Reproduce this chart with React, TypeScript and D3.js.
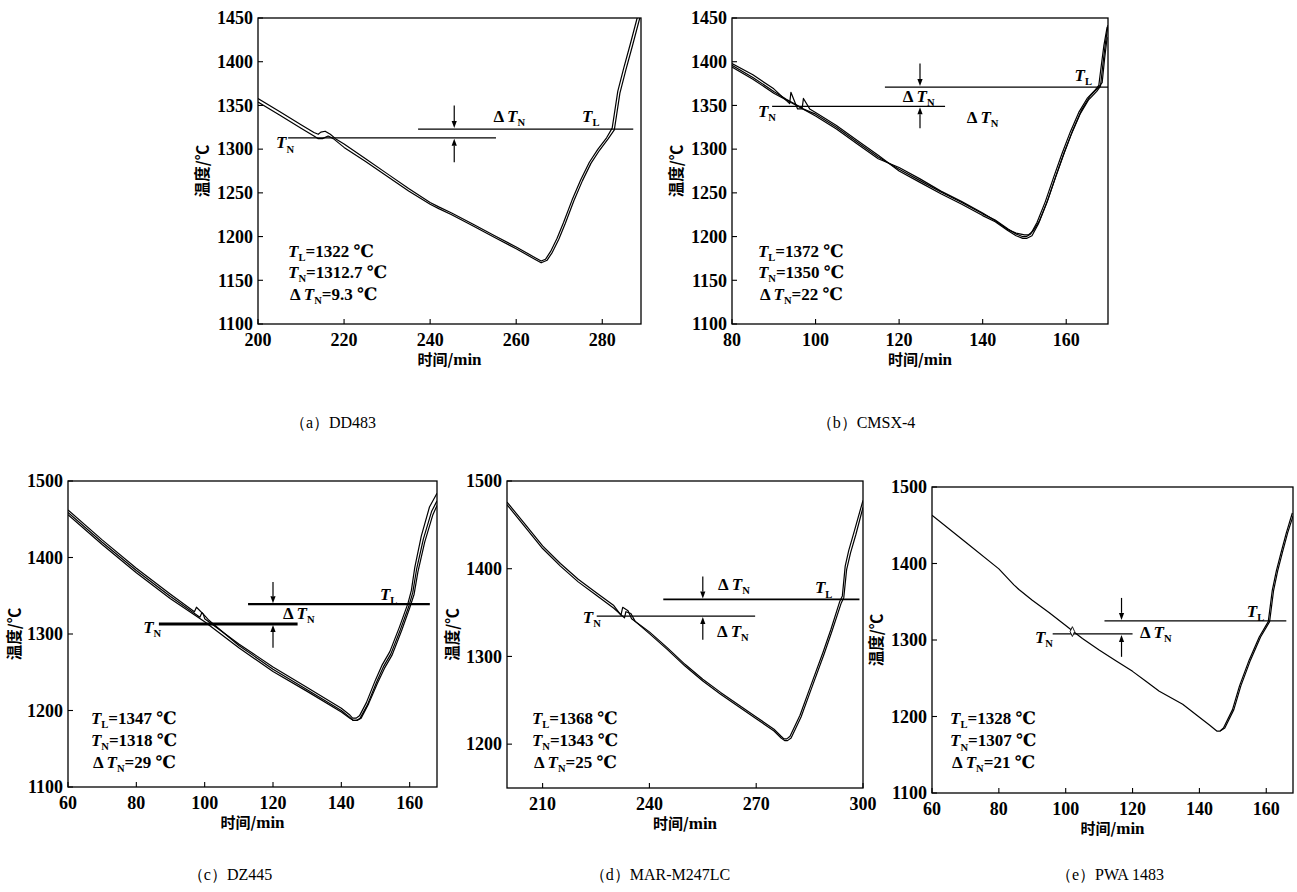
import React from "react";
import * as d3 from "d3";

type Pt = [number, number];

// ---------- (a) DD483 ----------
const aXTicks = [200, 220, 240, 260, 280];
const aYTicks = [1100, 1150, 1200, 1250, 1300, 1350, 1400, 1450];
const aCurve1: Pt[] = [
  [200, 1358], [205, 1343], [210, 1328], [213, 1319], [214, 1317], [214.6, 1319.5], [215.6, 1320.5], [216.8, 1317],
  [218, 1312], [220, 1306], [225, 1289], [230, 1272], [235, 1255], [240, 1239], [242, 1234], [245, 1227],
  [250, 1214], [255, 1201], [260, 1188], [264, 1177], [265.8, 1172], [266.8, 1174], [268, 1183], [269.5, 1198],
  [271, 1216], [273, 1242], [275, 1265], [277, 1285], [279, 1300], [281, 1313], [282.3, 1324], [282.8, 1340],
  [283.6, 1366], [285, 1393], [286.5, 1420], [288, 1448], [289, 1466],
];
const aCurve2: Pt[] = [
  [200, 1354], [205, 1339], [210, 1324], [213, 1315], [214, 1312], [215, 1312], [216.3, 1315], [217.5, 1312],
  [220, 1302], [225, 1286], [230, 1269], [235, 1252], [240, 1237], [242, 1232], [245, 1225], [250, 1212],
  [255, 1199], [260, 1186], [264, 1175], [265.8, 1170], [267.2, 1173], [268.4, 1182], [269.9, 1197], [271.4, 1215],
  [273.4, 1241], [275.4, 1264], [277.4, 1284], [279.4, 1299], [281.4, 1312], [282.8, 1322], [283.3, 1338], [284.1, 1364],
  [285.5, 1391], [287, 1418], [288.5, 1446], [289.5, 1464],
];
const aLevelTN = 1313;
const aLevelTL = 1323;
const aValues = ["1322", "1312.7", "9.3"];

// ---------- (b) CMSX-4 ----------
const bXTicks = [80, 100, 120, 140, 160];
const bYTicks = [1100, 1150, 1200, 1250, 1300, 1350, 1400, 1450];
const bCurve1: Pt[] = [
  [80, 1398], [85, 1385], [90, 1369], [93.8, 1352], [94.1, 1365], [95.7, 1346], [97, 1346], [100, 1340],
  [105, 1325], [110, 1308], [115, 1291], [120, 1277], [125, 1264], [130, 1251], [135, 1239], [140, 1226],
  [143, 1219], [146, 1209], [148, 1203], [149.5, 1200], [150.5, 1200], [151.5, 1203], [153, 1216], [155, 1240],
  [157, 1268], [159, 1295], [161, 1320], [163, 1342], [165, 1358], [167, 1368], [167.8, 1373], [168.4, 1396],
  [169, 1418], [169.8, 1440],
];
const bCurve2: Pt[] = [
  [80, 1396], [85, 1382], [90, 1366], [93, 1357], [96.8, 1347], [97.1, 1358], [98.6, 1346], [100, 1342],
  [105, 1327], [110, 1310], [115, 1293], [120, 1275], [125, 1262], [130, 1249], [135, 1237], [140, 1224],
  [143, 1217], [146, 1207], [148, 1201], [149.6, 1198], [150.6, 1198], [151.8, 1201], [153.3, 1214], [155.3, 1238],
  [157.3, 1266], [159.3, 1293], [161.3, 1318], [163.3, 1340], [165.3, 1356], [167.3, 1366], [168.2, 1372], [168.8, 1398],
  [169.4, 1422], [170, 1442],
];
const bCurve3: Pt[] = [
  [80, 1394], [85, 1380], [90, 1364], [95, 1351], [100, 1338], [105, 1323], [110, 1306], [115, 1289],
  [120, 1279], [125, 1266], [130, 1252], [135, 1240], [140, 1227], [143, 1218], [146, 1208], [148, 1204],
  [150, 1202], [151, 1202], [152, 1206], [153.6, 1218], [155.6, 1242], [157.6, 1270], [159.6, 1297], [161.6, 1322],
  [163.6, 1344], [165.6, 1360], [167.6, 1370], [168.6, 1376], [169.2, 1404], [169.8, 1428],
];
const bLevelTN = 1349;
const bLevelTL = 1371;
const bValues = ["1372", "1350", "22"];

// ---------- (c) DZ445 ----------
const cXTicks = [60, 80, 100, 120, 140, 160];
const cYTicks = [1100, 1200, 1300, 1400, 1500];
const cCurve1: Pt[] = [
  [60, 1462], [70, 1423], [80, 1386], [90, 1352], [97, 1329], [97.6, 1335], [99.6, 1326], [100, 1320],
  [110, 1287], [120, 1257], [130, 1230], [140, 1203], [142.5, 1194], [143.3, 1190], [144.3, 1190], [145.3, 1193],
  [147.3, 1210], [150, 1240], [152, 1260], [154.2, 1277], [157, 1309], [159.5, 1340], [160.5, 1357], [161.5, 1387],
  [163.4, 1428], [165.8, 1466], [168, 1484],
];
const cCurve2: Pt[] = [
  [60, 1459], [70, 1420], [80, 1383], [90, 1349], [98.6, 1322], [99.2, 1328], [101, 1319], [102, 1315],
  [110, 1285], [120, 1254], [130, 1227], [140, 1200], [142.5, 1191], [143.4, 1187], [144.4, 1187], [145.5, 1190],
  [147.6, 1207], [150.3, 1237], [152.3, 1257], [154.5, 1274], [157.3, 1306], [159.8, 1337], [160.9, 1354], [162, 1384],
  [164, 1424], [166.4, 1460], [168, 1474],
];
const cCurve3: Pt[] = [
  [60, 1456], [70, 1417], [80, 1380], [90, 1346], [100, 1316], [110, 1282], [120, 1251], [130, 1225],
  [140, 1198], [142.5, 1190], [143.6, 1187], [144.6, 1187], [145.8, 1190], [148, 1209], [150.6, 1236], [152.6, 1255],
  [154.8, 1272], [157.6, 1304], [160, 1334], [161.3, 1352], [162.4, 1381], [164.4, 1420], [166.8, 1456], [168, 1468],
];
const cLevelTN = 1313;
const cLevelTL = 1339;
const cValues = ["1347", "1318", "29"];

// ---------- (d) MAR-M247LC ----------
const dXTicks = [210, 240, 270, 300];
const dYTicks = [1200, 1300, 1400, 1500];
const dCurve1: Pt[] = [
  [200, 1476], [205, 1451], [210, 1426], [215, 1406], [220, 1388], [225, 1373], [230, 1358], [232, 1347],
  [232.5, 1356], [234, 1352], [235, 1343], [240, 1328], [245, 1310], [250, 1291], [255, 1274], [260, 1259],
  [265, 1245], [270, 1231], [275, 1217], [277, 1209], [277.8, 1206], [278.6, 1206], [279.5, 1209], [282.3, 1233],
  [285, 1263], [288.8, 1305], [291, 1331], [293.5, 1363], [294.2, 1369], [295, 1403], [296, 1421], [297.5, 1442],
  [300, 1478],
];
const dCurve2: Pt[] = [
  [200, 1473], [205, 1448], [210, 1423], [215, 1403], [220, 1385], [225, 1370], [230, 1355], [233, 1344],
  [233.4, 1351], [234.8, 1349], [236, 1340], [240, 1326], [245, 1308], [250, 1289], [255, 1272], [260, 1257],
  [265, 1243], [270, 1229], [275, 1215], [277, 1207], [278, 1204], [278.8, 1204], [279.8, 1207], [282.6, 1231],
  [285.3, 1261], [289.1, 1303], [291.3, 1329], [293.9, 1361], [294.6, 1367], [295.4, 1399], [296.5, 1418], [298, 1439],
  [300, 1470],
];
const dLevelTN = 1346;
const dLevelTL = 1365;
const dValues = ["1368", "1343", "25"];

// ---------- (e) PWA 1483 ----------
const eXTicks = [60, 80, 100, 120, 140, 160];
const eYTicks = [1100, 1200, 1300, 1400, 1500];
const eCurve1: Pt[] = [
  [60, 1463], [70, 1428], [80, 1393], [84.5, 1372], [86, 1366], [90, 1352], [95, 1336], [100, 1319],
  [102, 1312], [105, 1302], [110, 1287], [115, 1273], [120, 1259], [124, 1246], [128, 1233], [135, 1216],
  [140, 1199], [143, 1189], [145.2, 1181], [146.2, 1181], [147.2, 1185], [149.9, 1209], [152, 1240], [154.9, 1274],
  [157.9, 1304], [160.6, 1324], [161.8, 1365], [163, 1390], [164.4, 1414], [166, 1440], [167.8, 1466],
];
const eCurve2: Pt[] = [
  [146.2, 1181], [147.6, 1185], [150.3, 1209], [152.4, 1240], [155.3, 1274], [158.3, 1304], [161, 1324],
  [162.2, 1365], [163.4, 1390], [164.8, 1414], [166.4, 1440], [168, 1462],
];
const eLevelTN = 1308;
const eLevelTL = 1325;
const eMarker: Pt = [102, 1311];
const eValues = ["1328", "1307", "21"];

// ---------- layout ----------
type LabelSpec = { kind: "TN" | "TL" | "dTN"; at: Pt };
type PanelCfg = {
  left: number; right: number; top: number; bottom: number;
  xDomain: Pt; yDomain: Pt; xTicks: number[]; yTicks: number[];
  curves: Pt[][]; curveWidth: number;
  tnLine: [number, number]; tlLine: [number, number]; levels: Pt;
  lineWidths: Pt;
  arrowX: number; arrowFrom: Pt;
  labels: LabelSpec[];
  annot: { x: number; ys: number[]; values: string[] };
  ylabelX: number;
  marker?: Pt;
};

const panels: PanelCfg[] = [
  {
    left: 258, right: 641, top: 18, bottom: 324, xDomain: [200, 289], yDomain: [1100, 1450],
    xTicks: aXTicks, yTicks: aYTicks, curves: [aCurve1, aCurve2], curveWidth: 1.2,
    tnLine: [207, 255.3], tlLine: [237.2, 287.2], levels: [aLevelTN, aLevelTL], lineWidths: [1.3, 1.3],
    arrowX: 245.6, arrowFrom: [1350, 1285],
    labels: [{ kind: "TN", at: [204.2, 1301] }, { kind: "dTN", at: [254.7, 1331] }, { kind: "TL", at: [275.3, 1331] }],
    annot: { x: 207, ys: [1176.5, 1152.5, 1127.3], values: aValues }, ylabelX: 203,
  },
  {
    left: 732, right: 1108, top: 18, bottom: 324, xDomain: [80, 170], yDomain: [1100, 1450],
    xTicks: bXTicks, yTicks: bYTicks, curves: [bCurve1, bCurve2, bCurve3], curveWidth: 1.2,
    tnLine: [89.6, 131], tlLine: [116.6, 170], levels: [bLevelTN, bLevelTL], lineWidths: [1.3, 1.3],
    arrowX: 125, arrowFrom: [1398, 1324],
    labels: [
      { kind: "TN", at: [86.2, 1336.7] }, { kind: "dTN", at: [120.9, 1354] },
      { kind: "dTN", at: [136.2, 1330] }, { kind: "TL", at: [162, 1378] },
    ],
    annot: { x: 86.2, ys: [1176.5, 1152.5, 1127.3], values: bValues }, ylabelX: 677,
  },
  {
    left: 68, right: 437, top: 481, bottom: 787, xDomain: [60, 168], yDomain: [1100, 1500],
    xTicks: cXTicks, yTicks: cYTicks, curves: [cCurve1, cCurve2, cCurve3], curveWidth: 1.2,
    tnLine: [86.6, 127.2], tlLine: [112.7, 165.9], levels: [cLevelTN, cLevelTL], lineWidths: [3, 2.2],
    arrowX: 120, arrowFrom: [1368, 1282],
    labels: [{ kind: "TN", at: [82, 1301.3] }, { kind: "dTN", at: [122.9, 1319.6] }, { kind: "TL", at: [151.3, 1344.4] }],
    annot: { x: 66.7, ys: [1182.4, 1153.6, 1124.8], values: cValues }, ylabelX: 15,
  },
  {
    left: 507, right: 863, top: 481, bottom: 788, xDomain: [200, 300], yDomain: [1150, 1500],
    xTicks: dXTicks, yTicks: dYTicks, curves: [dCurve1, dCurve2], curveWidth: 1.2,
    tnLine: [225.2, 269.7], tlLine: [243.9, 299], levels: [dLevelTN, dLevelTL], lineWidths: [1.3, 1.6],
    arrowX: 255, arrowFrom: [1391, 1319],
    labels: [
      { kind: "TN", at: [221.3, 1338] }, { kind: "dTN", at: [259.3, 1375.7] },
      { kind: "dTN", at: [259, 1322] }, { kind: "TL", at: [286.5, 1372] },
    ],
    annot: { x: 207, ys: [1223, 1198, 1173], values: dValues }, ylabelX: 453,
  },
  {
    left: 932, right: 1293, top: 487, bottom: 793, xDomain: [60, 168], yDomain: [1100, 1500],
    xTicks: eXTicks, yTicks: eYTicks, curves: [eCurve1, eCurve2], curveWidth: 1.2,
    tnLine: [96.1, 120], tlLine: [111.6, 166], levels: [eLevelTN, eLevelTL], lineWidths: [1.3, 1.3],
    arrowX: 116.7, arrowFrom: [1355, 1278],
    labels: [{ kind: "TN", at: [90.8, 1296] }, { kind: "dTN", at: [122.2, 1302.6] }, { kind: "TL", at: [154.2, 1330] }],
    annot: { x: 65.4, ys: [1190, 1161, 1133], values: eValues }, ylabelX: 877, marker: eMarker,
  },
];

const captions: { text: string; x: number; y: number }[] = [
  { text: "（a）DD483", x: 333, y: 428 },
  { text: "（b）CMSX-4", x: 866, y: 428 },
  { text: "（c）DZ445", x: 230, y: 880 },
  { text: "（d）MAR-M247LC", x: 660, y: 880 },
  { text: "（e）PWA 1483", x: 1110, y: 880 },
];

const SERIF = "'Liberation Serif', 'DejaVu Serif', serif";
const CJK = "'Noto Sans CJK SC', sans-serif";

function sym(sub: string, delta: boolean, rest: string, fs: number) {
  const d = fs * 0.25;
  return (
    <>
      {delta && <tspan>Δ</tspan>}
      <tspan fontStyle="italic" dx={delta ? 3 : 0}>T</tspan>
      <tspan fontSize={fs * 0.62} dy={d}>{sub}</tspan>
      {rest ? <tspan dy={-d}>{rest}</tspan> : null}
    </>
  );
}

function Arrow({ x, y1, y2 }: { x: number; y1: number; y2: number }) {
  const dir = y2 > y1 ? 1 : -1;
  const hl = 7;
  return (
    <g>
      <line x1={x} x2={x} y1={y1} y2={y2 - dir * hl} stroke="#000" strokeWidth={1.2} />
      <path d={`M${x - 2.6},${y2 - dir * hl} L${x + 2.6},${y2 - dir * hl} L${x},${y2} Z`} fill="#000" />
    </g>
  );
}

function Panel({ cfg, idx }: { cfg: PanelCfg; idx: number }) {
  const x = d3.scaleLinear().domain(cfg.xDomain).range([cfg.left, cfg.right]);
  const y = d3.scaleLinear().domain(cfg.yDomain).range([cfg.bottom, cfg.top]);
  const line = d3.line<Pt>().x((d) => x(d[0])).y((d) => y(d[1])).curve(d3.curveLinear);
  const clipId = `clip${idx}`;
  const fsTick = 18;
  const fsLab = 17;
  const [tnY, tlY] = cfg.levels;
  return (
    <g>
      <defs>
        <clipPath id={clipId}>
          <rect x={cfg.left} y={cfg.top} width={cfg.right - cfg.left} height={cfg.bottom - cfg.top} />
        </clipPath>
      </defs>
      <g clipPath={`url(#${clipId})`}>
        {cfg.curves.map((c, i) => (
          <path key={i} d={line(c) || ""} fill="none" stroke="#000" strokeWidth={cfg.curveWidth} strokeLinejoin="round" />
        ))}
      </g>
      <rect x={cfg.left} y={cfg.top} width={cfg.right - cfg.left} height={cfg.bottom - cfg.top} fill="none" stroke="#000" strokeWidth={1.3} />
      {cfg.xTicks.map((t) => (
        <g key={`x${t}`}>
          <line x1={x(t)} x2={x(t)} y1={cfg.bottom} y2={cfg.bottom - 5} stroke="#000" strokeWidth={1.1} />
          <text x={x(t)} y={cfg.bottom + 22} textAnchor="middle" fontFamily={SERIF} fontWeight="bold" fontSize={fsTick}>{t}</text>
        </g>
      ))}
      {cfg.yTicks.map((t) => (
        <g key={`y${t}`}>
          <line x1={cfg.left} x2={cfg.left + 5} y1={y(t)} y2={y(t)} stroke="#000" strokeWidth={1.1} />
          <text x={cfg.left - 5} y={y(t)} dy="0.35em" textAnchor="end" fontFamily={SERIF} fontWeight="bold" fontSize={fsTick}>{t}</text>
        </g>
      ))}
      <text x={(cfg.left + cfg.right) / 2} y={cfg.bottom + 41} textAnchor="middle" fontFamily={CJK} fontWeight="bold" fontSize={15}>
        时间/<tspan fontFamily={SERIF} fontSize={17}>min</tspan>
      </text>
      <text transform={`translate(${cfg.ylabelX},${(cfg.top + cfg.bottom) / 2}) rotate(-90)`} textAnchor="middle" dy="0.35em" fontFamily={CJK} fontWeight="bold" fontSize={15.5}>
        温度/℃
      </text>
      <line x1={x(cfg.tnLine[0])} x2={x(cfg.tnLine[1])} y1={y(tnY)} y2={y(tnY)} stroke="#000" strokeWidth={cfg.lineWidths[0]} />
      <line x1={x(cfg.tlLine[0])} x2={x(cfg.tlLine[1])} y1={y(tlY)} y2={y(tlY)} stroke="#000" strokeWidth={cfg.lineWidths[1]} />
      <Arrow x={x(cfg.arrowX)} y1={y(cfg.arrowFrom[0])} y2={y(tlY) - 1} />
      <Arrow x={x(cfg.arrowX)} y1={y(cfg.arrowFrom[1])} y2={y(tnY) + 1} />
      {cfg.marker && (
        <path transform={`translate(${x(cfg.marker[0])},${y(cfg.marker[1])}) scale(0.8,1)`} d={d3.symbol(d3.symbolDiamond, 28)() || ""} fill="#fff" stroke="#000" strokeWidth={1} />
      )}
      {cfg.labels.map((l, i) => (
        <text key={i} x={x(l.at[0])} y={y(l.at[1])} fontFamily={SERIF} fontWeight="bold" fontSize={fsLab}>
          {sym(l.kind === "TL" ? "L" : "N", l.kind === "dTN", "", fsLab)}
        </text>
      ))}
      {cfg.annot.ys.map((yy, i) => (
        <text key={i} x={x(cfg.annot.x) + (i === 2 ? 2 : 0)} y={y(yy)} fontFamily={SERIF} fontWeight="bold" fontSize={fsLab}>
          {sym(i === 0 ? "L" : "N", i === 2, "=" + cfg.annot.values[i] + " ℃", fsLab)}
        </text>
      ))}
    </g>
  );
}

export default function App() {
  return (
    <svg width={1297} height={892} style={{ position: "absolute", left: 0, top: 0, background: "#fff" }}>
      <rect x={0} y={0} width={1297} height={892} fill="#fff" />
      {panels.map((p, i) => (
        <Panel key={i} cfg={p} idx={i} />
      ))}
      {captions.map((c, i) => (
        <text key={i} x={c.x} y={c.y} textAnchor="middle" fontFamily={SERIF} fontSize={16}>
          {c.text}
        </text>
      ))}
    </svg>
  );
}
